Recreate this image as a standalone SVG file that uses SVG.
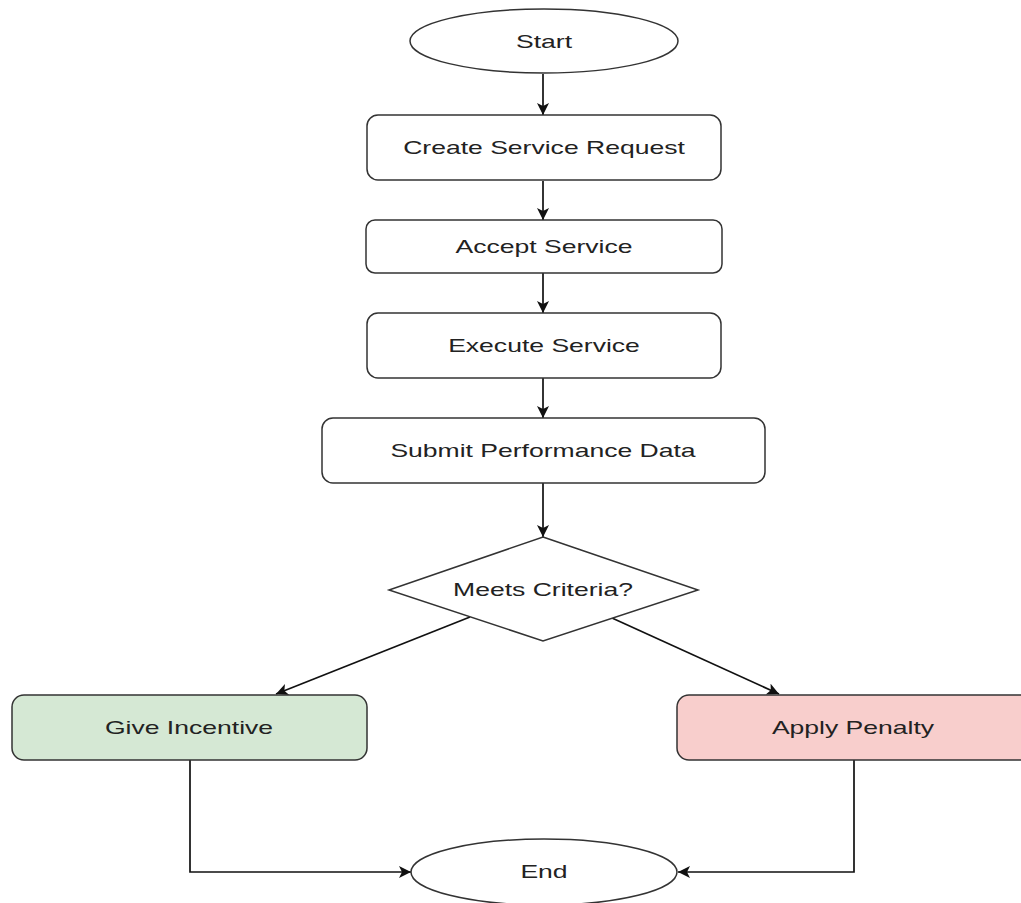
<svg xmlns="http://www.w3.org/2000/svg" width="1021" height="903" viewBox="0 0 1021 903">
<style>
.shape{fill:#ffffff;stroke:#333333;stroke-width:1.5}
.green{fill:#d5e8d4}
.red{fill:#f8cecc}
.lbl{font-family:"Liberation Sans",Arial,sans-serif;font-size:17.7px;fill:#222222;text-anchor:middle}
.edge{fill:none;stroke:#111111;stroke-width:1.7}
</style>
<defs>
<marker id="arr" viewBox="0 0 10 10" refX="10" refY="5" markerWidth="12" markerHeight="12" markerUnits="userSpaceOnUse" orient="auto">
<path d="M0,0 L10,5 L0,10 L2.5,5 Z" fill="#111111"/>
</marker>
</defs>
<rect width="1021" height="903" fill="#ffffff"/>
<g id="connectors">
<line class="edge" x1="543" y1="74" x2="543" y2="115" marker-end="url(#arr)"/>
<line class="edge" x1="543" y1="181" x2="543" y2="220" marker-end="url(#arr)"/>
<line class="edge" x1="543" y1="273" x2="543" y2="313" marker-end="url(#arr)"/>
<line class="edge" x1="543" y1="378" x2="543" y2="418" marker-end="url(#arr)"/>
<line class="edge" x1="543" y1="483" x2="543" y2="537" marker-end="url(#arr)"/>
<line class="edge" x1="470" y1="617" x2="276" y2="694" marker-end="url(#arr)"/>
<line class="edge" x1="612" y1="618" x2="779" y2="694" marker-end="url(#arr)"/>
<polyline class="edge" points="190,760 190,872 411,872" marker-end="url(#arr)"/>
<polyline class="edge" points="854,760 854,872 678,872" marker-end="url(#arr)"/>
</g>
<g id="start">
<ellipse class="shape" cx="544" cy="41" rx="134" ry="32"/>
<text class="lbl" transform="translate(544,48) scale(1.5,1)">Start</text>
</g>
<g id="create">
<rect class="shape" x="367" y="115" width="354" height="65" rx="11"/>
<text class="lbl" transform="translate(544,154) scale(1.5,1)">Create Service Request</text>
</g>
<g id="accept">
<rect class="shape" x="366" y="220" width="356" height="53" rx="9"/>
<text class="lbl" transform="translate(544,253) scale(1.5,1)">Accept Service</text>
</g>
<g id="execute">
<rect class="shape" x="367" y="313" width="354" height="65" rx="11"/>
<text class="lbl" transform="translate(544,352) scale(1.5,1)">Execute Service</text>
</g>
<g id="submit">
<rect class="shape" x="322" y="418" width="443" height="65" rx="11"/>
<text class="lbl" transform="translate(543,457) scale(1.5,1)">Submit Performance Data</text>
</g>
<g id="decision">
<polygon class="shape" points="543,537 698,590 543,641 389,590"/>
<text class="lbl" transform="translate(543,596) scale(1.5,1)">Meets Criteria?</text>
</g>
<g id="incentive">
<rect class="shape green" x="12" y="695" width="355" height="65" rx="12"/>
<text class="lbl" transform="translate(189,734) scale(1.5,1)">Give Incentive</text>
</g>
<g id="penalty">
<rect class="shape red" x="677" y="695" width="355" height="65" rx="12"/>
<text class="lbl" transform="translate(853,734) scale(1.5,1)">Apply Penalty</text>
</g>
<g id="end">
<ellipse class="shape" cx="544" cy="872" rx="133" ry="33"/>
<text class="lbl" transform="translate(544,878) scale(1.5,1)">End</text>
</g>
</svg>
